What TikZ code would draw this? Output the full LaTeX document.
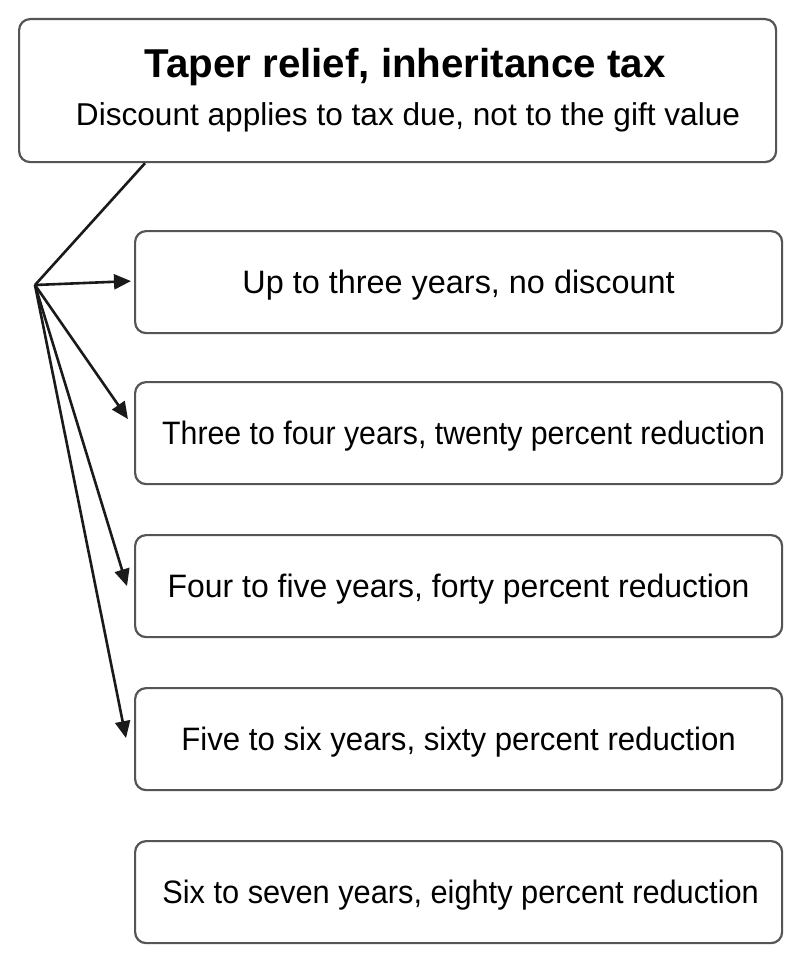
\documentclass[tikz,border=0pt]{standalone}
\usepackage{fontspec}
\setmainfont{Liberation Sans}
\usetikzlibrary{arrows.meta}
\definecolor{boxgray}{HTML}{555555}
\definecolor{linec}{HTML}{1A1A1A}
\begin{document}
\begin{tikzpicture}[x=1pt,y=-1pt,
  box/.style={draw=boxgray,line width=2.2pt,rounded corners=11pt,fill=white,
    minimum width=647pt,minimum height=102pt,inner sep=0pt,
    text height=23pt,text depth=0pt,font=\fontsize{32.4}{38}\selectfont,anchor=north west},
  topbox/.style={draw=boxgray,line width=2.2pt,rounded corners=11pt,fill=white,
    minimum width=757pt,minimum height=143pt,inner sep=0pt,anchor=north west},
  conn/.style={line width=2.6pt,draw=linec},
  arr/.style={conn,-{Triangle[length=17pt,width=15pt]},fill=linec}]
\fill[white] (0,0) rectangle (799,963);
\useasboundingbox (0,0) rectangle (799,963);
\node[topbox] (top) at (18,18) {};
\node[font=\bfseries\fontsize{40.3}{48}\selectfont,anchor=base] (title) at (405,78) {Taper relief, inheritance tax};
\node[font=\fontsize{31.6}{38}\selectfont,anchor=base] (sub) at (408,125) {Discount applies to tax due, not to the gift value};
\node[box] (b1) at (134,230) {Up to three years, no discount};
\node[box] (b2) at (134,381) {\hspace*{10pt}\scalebox{0.935}[1]{Three to four years, twenty percent reduction}};
\node[box] (b3) at (134,534) {\scalebox{0.985}[1]{Four to five years, forty percent reduction}};
\node[box] (b4) at (134,687) {\scalebox{0.962}[1]{Five to six years, sixty percent reduction}};
\node[box] (b5) at (134,840) {\hspace*{4pt}\scalebox{0.949}[1]{Six to seven years, eighty percent reduction}};
\coordinate (hub) at (35,285);
\draw[conn] ([xshift=127pt]top.south west) -- (hub);
\draw[arr] (hub) -- ([xshift=-3pt,yshift=1pt]b1.west);
\draw[arr] (hub) -- ([xshift=-6pt,yshift=14pt]b2.west);
\draw[arr] (hub) -- ([xshift=-7pt]b3.west);
\draw[arr] (hub) -- ([xshift=-8pt,yshift=1pt]b4.west);
\end{tikzpicture}
\end{document}
